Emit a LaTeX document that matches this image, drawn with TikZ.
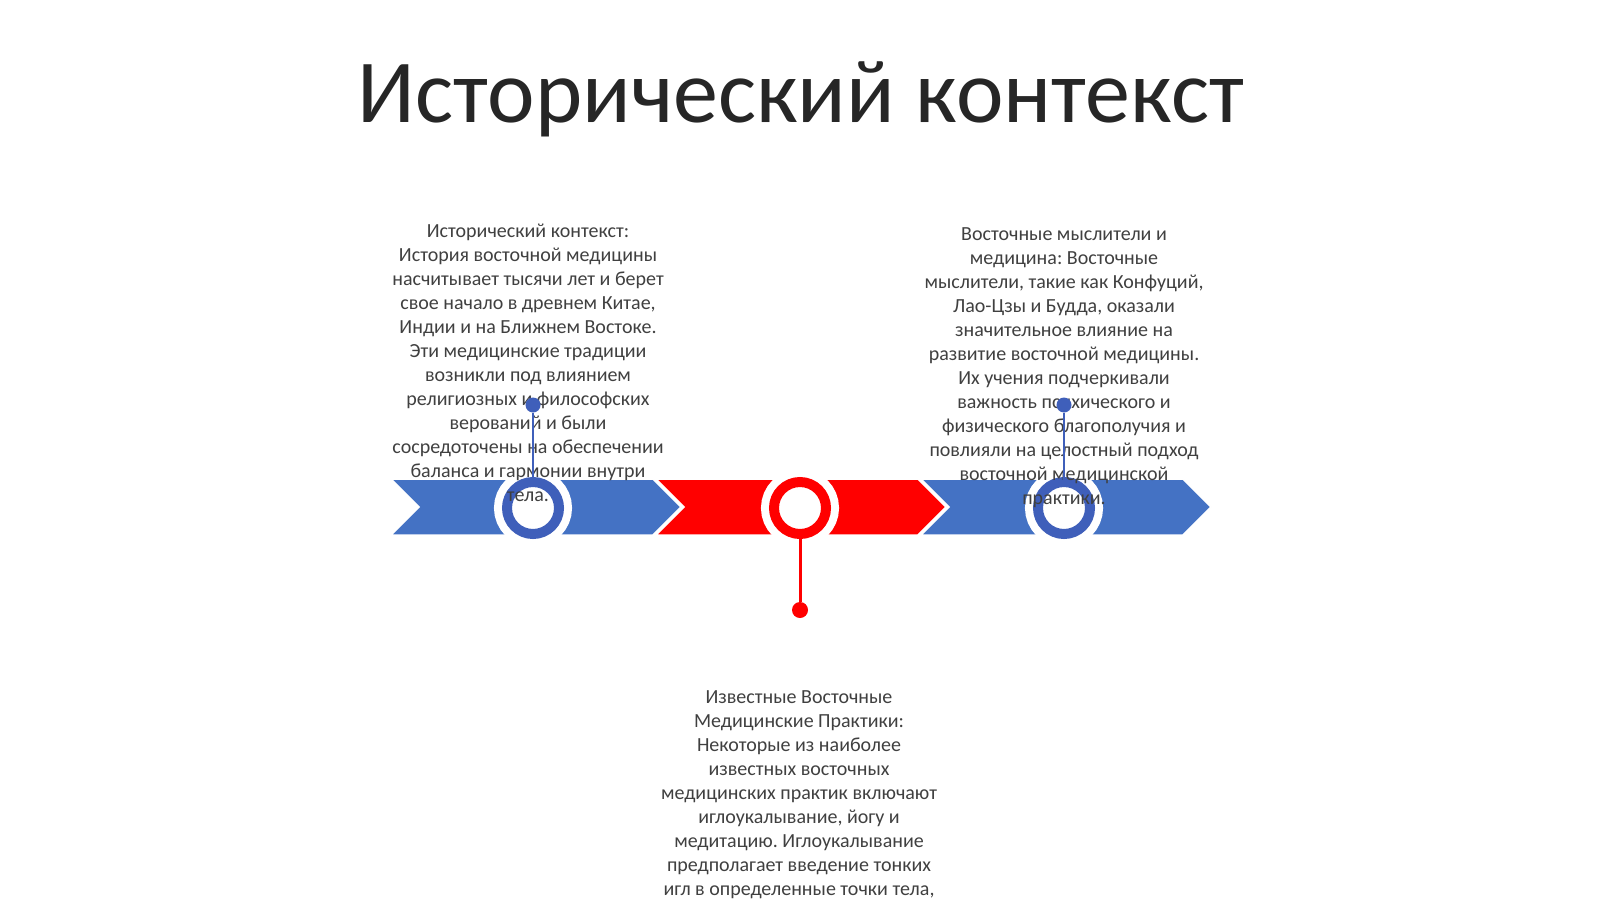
\documentclass[tikz,border=0pt]{standalone}
\usepackage{fontspec}
\setmainfont{Carlito}
\frenchspacing
\definecolor{bandblue}{HTML}{4472C4}
\definecolor{ringblue}{HTML}{3F5FBA}
\definecolor{bandred}{HTML}{FF0000}
\definecolor{bodygray}{HTML}{404040}
\definecolor{titlegray}{HTML}{262626}
\begin{document}
\begin{tikzpicture}[x=1pt, y=-1pt,
    ring/.style={circle, inner sep=0, outer sep=0, minimum size=52,
                 fill=white, draw=#1, line width=10,
                 preaction={draw=white, line width=26}},
    dot/.style={circle, inner sep=0, minimum size=15, fill=#1},
    stem/.style={draw=#1, line width=2.5},
    body/.style={align=center, inner sep=0, anchor=north, text=bodygray,
                 font=\fontsize{20}{24}\selectfont}]

\useasboundingbox[fill=white] (0,0) rectangle (1600,899);

\node[anchor=base, text=titlegray, font=\fontsize{90}{100}\selectfont]
    (title) at (801,122) {Исторический контекст};

% timeline band
\foreach \x/\c in {391/bandblue, 656/bandred, 921/bandblue}
    \filldraw[fill=\c, draw=white, line width=1.5]
        (\x,479) -- ++(262,0) -- ++(28,28) -- ++(-28,28)
        -- ++(-262,0) -- ++(28,-28) -- cycle;

\node[ring=ringblue] (r1) at (533,508) {};
\node[ring=bandred]  (r2) at (800,508) {};
\node[ring=ringblue] (r3) at (1064,508) {};

\node[body] (ctx) at (528,224) {Исторический контекст:\\
    История восточной медицины\\
    насчитывает тысячи лет и берет\\
    свое начало в древнем Китае,\\
    Индии и на Ближнем Востоке.\\
    Эти медицинские традиции\\
    возникли под влиянием\\
    религиозных и философских\\
    верований и были\\
    сосредоточены на обеспечении\\
    баланса и гармонии внутри\\
    тела.};

\node[body] (thinkers) at (1064,227.5) {Восточные мыслители и\\
    медицина: Восточные\\
    мыслители, такие как Конфуций,\\
    Лао-Цзы и Будда, оказали\\
    значительное влияние на\\
    развитие восточной медицины.\\
    Их учения подчеркивали\\
    важность психического и\\
    физического благополучия и\\
    повлияли на целостный подход\\
    восточной медицинской\\
    практики.};

\node[body] (practices) at (799,690.5) {Известные Восточные\\
    Медицинские Практики:\\
    Некоторые из наиболее\\
    известных восточных\\
    медицинских практик включают\\
    иглоукалывание, йогу и\\
    медитацию. Иглоукалывание\\
    предполагает введение тонких\\
    игл в определенные точки тела,};

\node[dot=ringblue] (d1) at (533,405) {};
\node[dot=ringblue] (d3) at (1064,405) {};
\node[dot=bandred, minimum size=16] (d2) at (800,610) {};

\draw[stem=ringblue] (d1) -- (r1);
\draw[stem=ringblue] (d3) -- (r3);
\draw[stem=bandred, line width=3] (r2) -- (d2);

\end{tikzpicture}
\end{document}
